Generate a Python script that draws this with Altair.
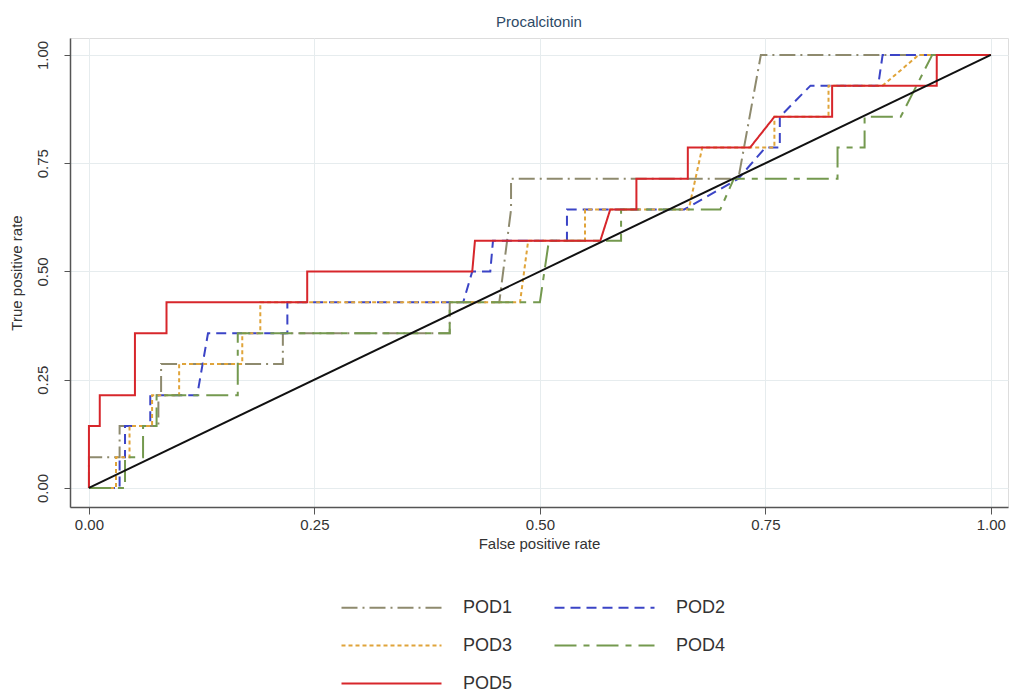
import altair as alt
import pandas as pd

# ROC step curves (false positive rate, true positive rate)
pod1_fpr = [0, 0.0, 0.034, 0.034, 0.077, 0.077, 0.08, 0.08, 0.215, 0.215, 0.40, 0.40, 0.455, 0.468, 0.468, 0.72, 0.745, 1.0]
pod1_tpr = [0, 0.071, 0.071, 0.143, 0.143, 0.214, 0.214, 0.286, 0.286, 0.357, 0.357, 0.429, 0.429, 0.643, 0.714, 0.714, 1.0, 1.0]

pod2_fpr = [0, 0.034, 0.034, 0.04, 0.04, 0.068, 0.068, 0.12, 0.132, 0.22, 0.22, 0.415, 0.425, 0.445, 0.448, 0.53, 0.53, 0.66, 0.72, 0.75, 0.766, 0.766, 0.80, 0.875, 0.88, 1.0]
pod2_tpr = [0, 0, 0.071, 0.071, 0.143, 0.143, 0.214, 0.214, 0.357, 0.357, 0.429, 0.429, 0.5, 0.5, 0.571, 0.571, 0.643, 0.643, 0.714, 0.786, 0.786, 0.857, 0.929, 0.929, 1.0, 1.0]

pod3_fpr = [0, 0.03, 0.03, 0.045, 0.045, 0.07, 0.07, 0.10, 0.10, 0.17, 0.17, 0.19, 0.19, 0.478, 0.487, 0.55, 0.55, 0.665, 0.68, 0.76, 0.76, 0.82, 0.82, 0.88, 0.92, 1.0]
pod3_tpr = [0, 0, 0.071, 0.071, 0.143, 0.143, 0.214, 0.214, 0.286, 0.286, 0.357, 0.357, 0.429, 0.429, 0.571, 0.571, 0.643, 0.643, 0.786, 0.786, 0.857, 0.857, 0.929, 0.929, 1.0, 1.0]

pod4_fpr = [0, 0.04, 0.04, 0.06, 0.06, 0.075, 0.075, 0.165, 0.165, 0.40, 0.40, 0.50, 0.51, 0.59, 0.59, 0.70, 0.715, 0.83, 0.83, 0.86, 0.86, 0.90, 0.935, 1.0]
pod4_tpr = [0, 0, 0.071, 0.071, 0.143, 0.143, 0.214, 0.214, 0.357, 0.357, 0.429, 0.429, 0.571, 0.571, 0.643, 0.643, 0.714, 0.714, 0.786, 0.786, 0.857, 0.857, 1.0, 1.0]

pod5_fpr = [0, 0, 0.012, 0.012, 0.051, 0.051, 0.086, 0.086, 0.242, 0.242, 0.425, 0.428, 0.567, 0.578, 0.607, 0.607, 0.664, 0.664, 0.733, 0.76, 0.824, 0.824, 0.94, 0.94, 1.0]
pod5_tpr = [0, 0.143, 0.143, 0.214, 0.214, 0.357, 0.357, 0.429, 0.429, 0.5, 0.5, 0.571, 0.571, 0.643, 0.643, 0.714, 0.714, 0.786, 0.786, 0.857, 0.857, 0.929, 0.929, 1.0, 1.0]

ref_fpr = [0, 1]
ref_tpr = [0, 1]

series = ["POD1", "POD2", "POD3", "POD4", "POD5"]
colors = ["#8e8a6e", "#3b44c6", "#e0a43a", "#74994f", "#d7262b"]
dashes = [[16, 5, 2, 5], [10, 6], [4, 3], [22, 7, 6, 7], [1, 0]]
x_ticks = [0, 0.25, 0.5, 0.75, 1.0]
y_ticks = [0, 0.25, 0.5, 0.75, 1.0]

rows = []
for name, fx, ty in zip(series, [pod1_fpr, pod2_fpr, pod3_fpr, pod4_fpr, pod5_fpr],
                        [pod1_tpr, pod2_tpr, pod3_tpr, pod4_tpr, pod5_tpr]):
    for i, (a, b) in enumerate(zip(fx, ty)):
        rows.append({"series": name, "i": i, "fpr": a, "tpr": b})
df = pd.DataFrame(rows)
ref = pd.DataFrame({"fpr": ref_fpr, "tpr": ref_tpr, "i": [0, 1]})

xscale = alt.Scale(domain=[-0.021, 1.019], nice=False, zero=False)
yscale = alt.Scale(domain=[-0.044, 1.039], nice=False, zero=False)

xaxis = alt.Axis(values=x_ticks, format=".2f", title="False positive rate",
                 grid=True, gridColor="#e6ecee", tickSize=7, labelPadding=3,
                 domainColor="#555555", tickColor="#555555", domainWidth=1.5,
                 labelFontSize=15, titleFontSize=15, labelColor="#333333",
                 titleColor="#333333", titleFontWeight="normal", titlePadding=4,
                 labelFont="Liberation Sans", titleFont="Liberation Sans")
yaxis = alt.Axis(values=y_ticks, format=".2f", title="True positive rate",
                 grid=True, gridColor="#e6ecee", tickSize=6, labelPadding=14,
                 domainColor="#555555", tickColor="#555555", domainWidth=1.5,
                 labelAngle=270, labelAlign="center", labelBaseline="bottom",
                 labelFontSize=15, titleFontSize=15, labelColor="#333333",
                 titleColor="#333333", titleFontWeight="normal", titlePadding=11,
                 labelFont="Liberation Sans", titleFont="Liberation Sans")

legend = alt.Legend(title=None, orient="none", legendX=295, legendY=543,
                    columns=2, direction="horizontal", symbolType="M-2,0H2",
                    symbolSize=2500, symbolStrokeWidth=2.2, labelFontSize=18,
                    labelOffset=45, labelColor="#333333", labelFont="Liberation Sans",
                    columnPadding=37, rowPadding=2, padding=0)

lines = alt.Chart(df).mark_line(strokeWidth=2, interpolate="linear").encode(
    x=alt.X("fpr:Q", scale=xscale, axis=xaxis),
    y=alt.Y("tpr:Q", scale=yscale, axis=yaxis),
    color=alt.Color("series:N", scale=alt.Scale(domain=series, range=colors), legend=legend),
    strokeDash=alt.StrokeDash("series:N", scale=alt.Scale(domain=series, range=dashes), legend=legend),
    order=alt.Order("i:Q"),
)

refline = alt.Chart(ref).mark_line(color="#111111", strokeWidth=2).encode(
    x=alt.X("fpr:Q", scale=xscale),
    y=alt.Y("tpr:Q", scale=yscale),
    order=alt.Order("i:Q"),
)

chart = alt.layer(lines, refline).properties(
    width=938, height=469,
    title=alt.TitleParams("Procalcitonin", fontSize=15, color="#2e4a66",
                          fontWeight="normal", font="Liberation Sans", offset=8),
    autosize=alt.AutoSizeParams(type="none"),
    padding={"left": 70, "top": 38, "right": 8, "bottom": 190},
).configure_view(stroke=None).configure(background="white")

chart.save("out.html", embed_options={"renderer": "svg", "actions": False})
